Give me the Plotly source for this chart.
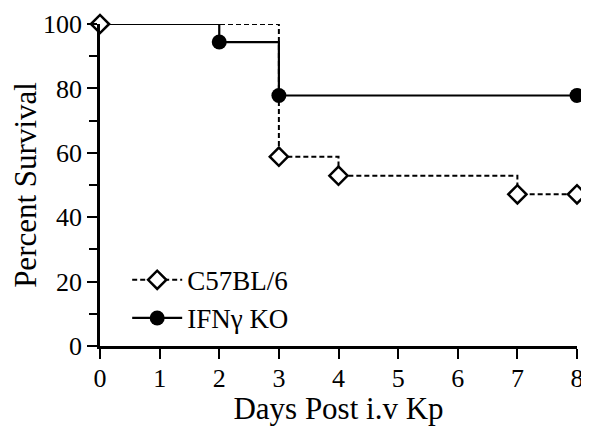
import plotly.graph_objects as go

# Data
c57_days = [0, 3, 4, 7, 8]
c57_surv = [100, 58.8, 52.9, 47.1, 47.1]
ifn_days = [0, 2, 3, 8]
ifn_surv = [100, 94.4, 77.8, 77.8]
x_ticks = [0, 1, 2, 3, 4, 5, 6, 7, 8]
y_ticks = [0, 20, 40, 60, 80, 100]

FONT = "Liberation Serif, Times New Roman, serif"

fig = go.Figure()

# IFNg KO: line from the start (no marker at day 0)
fig.add_trace(go.Scatter(
    x=ifn_days[:2], y=ifn_surv[:2], mode="lines", line_shape="hv",
    line=dict(color="black", width=2.2), showlegend=False, hoverinfo="skip",
    cliponaxis=False))
fig.add_trace(go.Scatter(
    x=ifn_days[1:], y=ifn_surv[1:], mode="lines+markers", line_shape="hv",
    name="IFNγ KO", legendrank=2,
    line=dict(color="black", width=2.2),
    marker=dict(symbol="circle", size=15, color="black"),
    cliponaxis=False))

# C57BL/6
fig.add_trace(go.Scatter(
    x=c57_days, y=c57_surv, mode="lines+markers", line_shape="hv",
    name="C57BL/6", legendrank=1,
    line=dict(color="black", width=2, dash="5px,3px"),
    marker=dict(symbol="diamond", size=14, color="white",
                line=dict(color="black", width=2.5)),
    cliponaxis=False))

# page body has an 8px default margin; size the figure to fit the window
fig.update_layout(
    width=581, height=418,
    margin=dict(l=92, r=12, t=16, b=80),
    paper_bgcolor="white", plot_bgcolor="white",
    font=dict(family=FONT, color="black", size=26),
    showlegend=True,
    legend=dict(x=0.057, y=0.01, xanchor="left", yanchor="bottom",
                bgcolor="rgba(0,0,0,0)", font=dict(size=27, family=FONT),
                traceorder="normal", tracegroupgap=24, itemwidth=50),
)

fig.update_xaxes(
    range=[0, 8], tickvals=x_ticks, ticktext=[str(v) for v in x_ticks],
    showline=True, linecolor="black", linewidth=2.5,
    ticks="outside", ticklen=10, tickwidth=2, tickcolor="black",
    showgrid=False, zeroline=False, automargin=False,
    ticklabelstandoff=-3,
    tickfont=dict(size=26, family=FONT),
    title=dict(text="Days Post i.v Kp", font=dict(size=31, family=FONT), standoff=20),
)
fig.update_yaxes(
    range=[0, 100], tickvals=y_ticks, ticktext=[str(v) for v in y_ticks],
    showline=True, linecolor="black", linewidth=2.5,
    ticks="outside", ticklen=10, tickwidth=2, tickcolor="black",
    minor=dict(dtick=10, ticks="outside", ticklen=8, tickwidth=2, tickcolor="black", showgrid=False),
    showgrid=False, zeroline=False, automargin=False,
    tickfont=dict(size=26, family=FONT),
    title=dict(text="Percent Survival", font=dict(size=31, family=FONT), standoff=8),
)

fig.write_html("out.html")
